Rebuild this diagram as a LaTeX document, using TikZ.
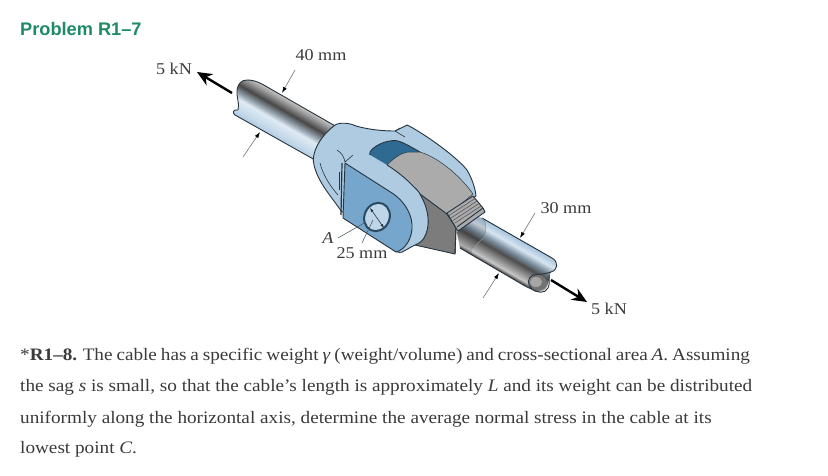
\documentclass[tikz,border=0pt]{standalone}
\usepackage{fontspec}
\setmainfont[FakeStretch=1.097]{Liberation Serif}
\newfontfamily\titlefont{Liberation Sans}
\usetikzlibrary{arrows.meta,calc}
\definecolor{txt}{HTML}{3A3A3A}
\definecolor{ttl}{HTML}{1F8A66}
\definecolor{lb}{HTML}{AFCBE2}
\definecolor{mb}{HTML}{76A6CB}
\definecolor{db}{HTML}{2F6A93}
\definecolor{lg}{HTML}{ABABAB}
\definecolor{dg}{HTML}{7C7C7C}
\definecolor{ol}{HTML}{26343F}
\pgfdeclareverticalshading{rodA}{100bp}{color(0bp)=(lb); color(25bp)=(lb); color(33bp)=(lb!70!white); color(44bp)=(lb!40!white); color(50bp)=(lb!50!gray); color(59bp)=(black!72!white); color(68bp)=(black!40!white); color(75bp)=(black!18!white); color(100bp)=(black!18!white)}
\pgfdeclareverticalshading{rodB}{100bp}{color(0bp)=(black!75!white); color(25bp)=(black!75!white); color(30bp)=(black!22!white); color(40bp)=(black!50!white); color(47bp)=(black!70!white); color(55bp)=(black!30!lb); color(64bp)=(lb!50!white); color(75bp)=(lb!90!db); color(100bp)=(lb!90!db)}
\tikzset{
  outl/.style={draw=ol,line width=0.9pt,line join=round},
  thin line/.style={draw=ol,line width=0.6pt},
  lbl/.style={font=\fontsize{16.5}{18}\selectfont,text=txt,inner sep=0pt},
  body/.style={font=\fontsize{17.5}{19}\selectfont,text=txt,inner sep=0pt,anchor=base west},
  leader/.style={draw=black!55,line width=0.6pt,-{Latex[length=6pt,width=4pt,black]}},
  force/.style={draw=black,line width=2.4pt,-{Stealth[length=15pt,width=13pt]}},
}
\begin{document}
\begin{tikzpicture}[x=1pt,y=-1pt]
\useasboundingbox (0,0) rectangle (828,475);
% rod 1
\begin{scope}
\clip (237,90) .. controls (238,84) and (241,80) .. (247,80) .. controls (252,80) and (256,81) .. (262,84) -- (337,127) -- (315,160) -- (235,115) .. controls (232,113) and (233,109) .. (238,110) .. controls (240,104) and (236,96) .. (237,90) -- cycle;
\shade[shading=rodA,transform canvas={shift={(247.5,98.5)},rotate=-29.8}] (-30,-21) rectangle (130,21);
\end{scope}
\draw[outl] (238,110) .. controls (240,104) and (236,96) .. (237,90) .. controls (238,84) and (241,80) .. (247,80) .. controls (252,80) and (256,81) .. (262,84) -- (337,127);
\draw[outl] (238,110) .. controls (233,109) and (232,113) .. (235,115) -- (315,160);
% rod 2
\begin{scope}
\clip (457,233) .. controls (460,222) and (470,214) .. (482,218) -- (552,258) .. controls (559,262) and (558,270) .. (551,272) .. controls (549,276) and (549,288) .. (543,291) .. controls (535,294) and (529,289) .. (523,285) -- (460,248) -- cycle;
\shade[shading=rodB,transform canvas={shift={(471,233)},rotate=-29.8}] (-20,-19) rectangle (110,19);
\end{scope}
\fill[black!55] (538,283) ellipse [x radius=9,y radius=8];
\fill[black!35] (536,282) ellipse [x radius=6,y radius=5];
\draw[outl] (482,218) -- (552,258) .. controls (559,262) and (558,270) .. (551,272) .. controls (546,274) and (540,274) .. (533,275) .. controls (527,278) and (527,285) .. (532,289) .. controls (537,293) and (545,294) .. (548,288) .. controls (550,284) and (549,279) .. (549,275);
\draw[outl] (460,248) -- (525,286) .. controls (528,288) and (530,288) .. (532,289);
% sleeve over rod 2
\fill[black,opacity=.12] (457,233) .. controls (460,222) and (470,214) .. (482,218) -- (485,220) .. controls (487,225) and (487,230) .. (483,238) .. controls (478,244) and (470,246) .. (472,255) -- (460,248) -- cycle;
\draw[draw=black!45,line width=.4pt] (482,218) .. controls (487,222) and (487,232) .. (483,238) -- (473,248);
% clevis body
\path[fill=lb,outl] (335,125) .. controls (340,122) and (350,123) .. (356,126) .. controls (370,130) and (385,131) .. (395,131) -- (407,125) .. controls (420,131) and (455,155) .. (467,170) .. controls (471,177) and (475,186) .. (476,196) -- (447,216) -- (400,200) -- (342,212) .. controls (330,195) and (318,182) .. (314,165) .. controls (311,155) and (318,138) .. (335,125) -- cycle;
% slot
\path[fill=db,outl] (370,152) .. controls (373,147) and (382,142) .. (390,141) .. controls (398,139) and (404,143) .. (420,152) .. controls (423,156) and (422,160) .. (415,168) -- (388,168) .. controls (380,166) and (368,160) .. (370,152) -- cycle;
% grey tongue
\path[fill=lg,draw=ol,line width=.5pt] (387,165) .. controls (392,160) and (400,153) .. (408,152) -- (420,152) .. controls (440,158) and (462,178) .. (473,194) -- (447,216) -- (420,196) -- (394,174) -- cycle;
% dark block
\path[fill=dg,outl] (420,194) -- (447,214) -- (456,228) -- (455,254) -- (415,245) -- (408,240) -- (428,222) -- cycle;
% ribs
\path[fill=lg,outl] (447,213) -- (473,196) -- (483,208) -- (485,212) -- (458,231) -- (456,228) -- cycle;
\foreach \dy/\dx in {2.5/2,5/4,7.5/6,10/8}{
  \draw[draw=black!65,line width=.6pt] ($(447,213)+(\dx,\dy)$) -- ($(473,196)+(\dx,\dy)$);
}
\draw[outl] (456,228) -- (455,254);
\draw[outl] (483,208) -- (457,227);
% front rim
\fill[lb] (345,163) -- (370,155) -- (387,165) .. controls (395,170) and (403,176) .. (410,183) .. controls (415,188) and (419,191) .. (421,196) .. controls (430,212) and (430,228) .. (424,238) .. controls (421,243) and (417,244) .. (413,246) -- (404,251) .. controls (402,253) and (398,253) .. (393,250) -- (343,218) -- cycle;
\draw[outl] (387,165) .. controls (395,170) and (403,176) .. (410,183) .. controls (415,188) and (419,191) .. (421,196) .. controls (430,212) and (430,228) .. (424,238) .. controls (421,243) and (417,244) .. (413,246) -- (404,251) .. controls (402,253) and (398,253) .. (393,250);
% front plate
\path[fill=mb,outl] (345,163) -- (392,193) .. controls (403,200) and (411,212) .. (412,224) .. controls (413,238) and (405,250) .. (396,252) -- (343,218) -- cycle;
% side details
\draw[draw=ol,line width=1.2pt] (342,163) -- (341,215);
\draw[thin line] (339,172) -- (339,190);
\draw[thin line] (320,163) .. controls (323,175) and (330,186) .. (338,195);
\draw[thin line] (337,150) .. controls (342,153) and (344,157) .. (345,162) -- (353,155);
\draw[thin line] (395,131) -- (405,137) (395,131) -- (400,128);
% pin hole
\path[fill=lb!80!white,draw=ol!60!db,line width=2pt] (377,217) circle [x radius=14.5,y radius=12.5,rotate=65];
% 25 mm arrows
\coordinate (h1) at (370,208);
\coordinate (h2) at (384,228);
\draw[draw=ol,line width=.6pt,{Latex[length=4pt,width=3pt]}-{Latex[length=4pt,width=3pt]}] (h1) -- (h2);
\coordinate (a1) at (338,238);
\coordinate (a2) at (366,222);
\draw[draw=ol!80,line width=.6pt] (a1) -- (a2);
\coordinate (b1) at (362,243);
\coordinate (b2) at (373,220);
\draw[draw=ol!80,line width=.6pt] (b1) -- (b2);
% dimension leaders
\coordinate (d40a) at (295,70); \coordinate (d40b) at (282,93);
\coordinate (d40c) at (243,157); \coordinate (d40d) at (260,132);
\coordinate (d30a) at (535,213); \coordinate (d30b) at (520,238);
\coordinate (d30c) at (483,298); \coordinate (d30d) at (499,273);
\draw[leader] (d40a) -- (d40b);
\draw[leader] (d40c) -- (d40d);
\draw[leader] (d30a) -- (d30b);
\draw[leader] (d30c) -- (d30d);
% forces
\coordinate (f1a) at (232,93); \coordinate (f1b) at (197,72);
\coordinate (f2a) at (551,280); \coordinate (f2b) at (587,302);
\draw[force] (f1a) -- (f1b);
\draw[force] (f2a) -- (f2b);
% labels
\node[lbl] (l1) at (174,69) {5 kN};
\node[lbl] (l2) at (321,55) {40 mm};
\node[lbl] (l3) at (566,208) {30 mm};
\node[lbl] (l4) at (362,253) {25 mm};
\node[lbl,font=\fontsize{16.5}{18}\selectfont\itshape] (l5) at (328,238) {A};
\node[lbl] (l6) at (609,309) {5 kN};
\node[anchor=base west,inner sep=0pt,text=ttl,font=\titlefont\bfseries\fontsize{18.2}{20}\selectfont] (t0) at (20,35) {Problem R1–7};
\node[body] (t1) at (20,360) {\spaceskip=3.9pt *\textbf{R1–8.} The cable has a specific weight \textit{γ} (weight/volume) and cross-sectional area \textit{A}. Assuming};
\node[body] (t2) at (20,391) {the sag \textit{s} is small, so that the cable’s length is approximately \textit{L} and its weight can be distributed};
\node[body] (t3) at (20,423) {uniformly along the horizontal axis, determine the average normal stress in the cable at its};
\node[body] (t4) at (20,453) {lowest point \textit{C}.};
\end{tikzpicture}
\end{document}
